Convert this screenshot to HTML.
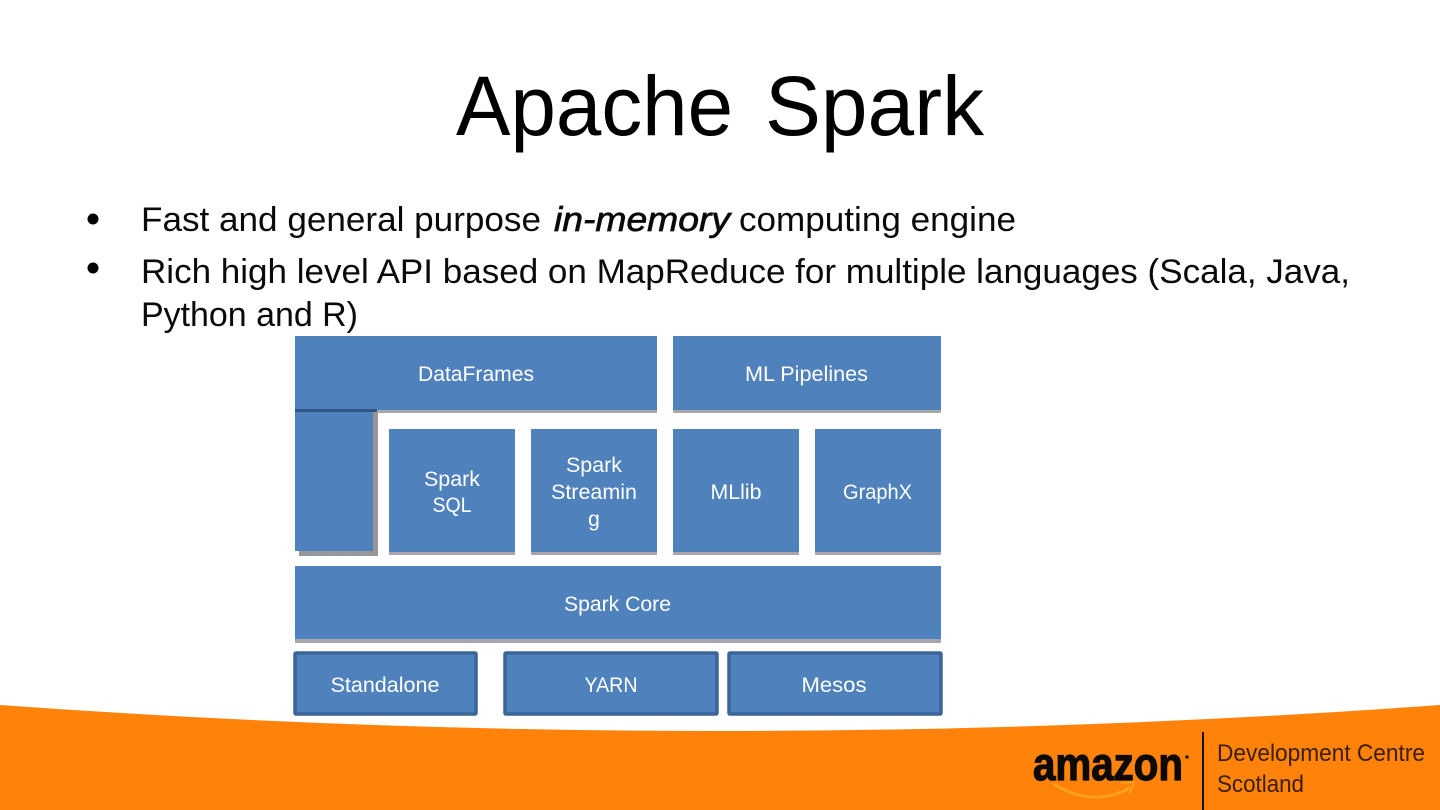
<!DOCTYPE html>
<html><head><meta charset="utf-8"><style>
html,body{margin:0;padding:0;background:#fff;width:1440px;height:810px;overflow:hidden}
svg{display:block}
text{font-family:"Liberation Sans",sans-serif}
.b{font-size:34px;fill:#0a0a0a}
.l{font-size:21px;fill:#fff;text-anchor:middle}
</style></head><body>
<svg width="1440" height="810" viewBox="0 0 1440 810" xmlns="http://www.w3.org/2000/svg">
<rect width="1440" height="810" fill="#fff"/>
<text x="456" y="135" font-size="84" textLength="277" lengthAdjust="spacingAndGlyphs">Apache</text>
<text x="765" y="135" font-size="84" textLength="219" lengthAdjust="spacingAndGlyphs">Spark</text>
<circle cx="93" cy="219" r="5.5" fill="#000"/>
<circle cx="93" cy="268" r="5.5" fill="#000"/>
<text class="b" x="141" y="231" textLength="400" lengthAdjust="spacingAndGlyphs">Fast and general purpose</text>
<text class="b" x="554" y="231" font-style="italic" stroke="#0a0a0a" stroke-width="0.7" textLength="176" lengthAdjust="spacingAndGlyphs">in-memory</text>
<text class="b" x="739" y="231" textLength="277" lengthAdjust="spacingAndGlyphs">computing engine</text>
<text class="b" x="141" y="283" textLength="1209" lengthAdjust="spacingAndGlyphs">Rich high level API based on MapReduce for multiple languages (Scala, Java,</text>
<text class="b" x="141" y="326" textLength="217" lengthAdjust="spacingAndGlyphs">Python and R)</text>

<!-- shadows -->
<g fill="#a5a7ab">
<rect x="295" y="340" width="362" height="73"/>
<rect x="673" y="340" width="268" height="73"/>
<rect x="389" y="433" width="126" height="122"/>
<rect x="531" y="433" width="126" height="122"/>
<rect x="673" y="433" width="126" height="122"/>
<rect x="815" y="433" width="126" height="122"/>
<rect x="295" y="570" width="646" height="73"/>
</g>
<rect x="299" y="412" width="79" height="144" fill="#96979a"/>
<g fill="#4f81bd">
<rect x="295" y="336" width="362" height="74"/>
<rect x="673" y="336" width="268" height="74"/>
<rect x="295" y="412" width="78" height="139"/>
<rect x="389" y="429" width="126" height="123"/>
<rect x="531" y="429" width="126" height="123"/>
<rect x="673" y="429" width="126" height="123"/>
<rect x="815" y="429" width="126" height="123"/>
<rect x="295" y="566" width="646" height="73"/>
</g>
<rect x="295" y="409" width="82" height="3" fill="#2f5586"/>
<g fill="#4f81bd" stroke="#3a6596" stroke-width="3.5">
<rect x="295" y="653" width="181" height="61" rx="1"/>
<rect x="505" y="653" width="212" height="61" rx="1"/>
<rect x="729" y="653" width="212" height="61" rx="1"/>
</g>
<text class="l" x="476" y="381" textLength="116" lengthAdjust="spacingAndGlyphs">DataFrames</text>
<text class="l" x="806.500" y="381" textLength="123" lengthAdjust="spacingAndGlyphs">ML Pipelines</text>
<text class="l" x="452" y="486" textLength="56" lengthAdjust="spacingAndGlyphs">Spark</text>
<text class="l" x="452" y="512" textLength="39" lengthAdjust="spacingAndGlyphs">SQL</text>
<text class="l" x="594" y="472" textLength="56" lengthAdjust="spacingAndGlyphs">Spark</text>
<text class="l" x="594" y="499" textLength="86" lengthAdjust="spacingAndGlyphs">Streamin</text>
<text class="l" x="594" y="526">g</text>
<text class="l" x="736" y="499" textLength="51" lengthAdjust="spacingAndGlyphs">MLlib</text>
<text class="l" x="877.500" y="499" textLength="69" lengthAdjust="spacingAndGlyphs">GraphX</text>
<text class="l" x="617.500" y="611" textLength="107" lengthAdjust="spacingAndGlyphs">Spark Core</text>
<text class="l" x="385" y="692" textLength="109" lengthAdjust="spacingAndGlyphs">Standalone</text>
<text class="l" x="611" y="692" textLength="53" lengthAdjust="spacingAndGlyphs">YARN</text>
<text class="l" x="834" y="692" textLength="65" lengthAdjust="spacingAndGlyphs">Mesos</text>

<!-- orange band -->
<path d="M0 705 Q720 757 1440 705 V810 H0 Z" fill="#ff820a"/>
<text x="1033" y="780" font-size="46" font-weight="bold" fill="#0d0a05" stroke="#0d0a05" stroke-width="1.2" textLength="150" lengthAdjust="spacingAndGlyphs">amazon</text>
<circle cx="1187" cy="757" r="1.800" fill="#2a1a08"/>
<path d="M1054 784 Q1092 808 1130 788" fill="none" stroke="#f9a11f" stroke-width="3"/>
<path d="M1121 783 L1134 782 L1130 794" fill="none" stroke="#f9a11f" stroke-width="2"/>
<rect x="1202" y="732" width="2" height="78" fill="#1a0f04"/>
<text x="1217" y="761" font-size="24" fill="#3a1f05" textLength="208" lengthAdjust="spacingAndGlyphs">Development Centre</text>
<text x="1217" y="792" font-size="24" fill="#3a1f05" textLength="87" lengthAdjust="spacingAndGlyphs">Scotland</text>
</svg>
</body></html>
